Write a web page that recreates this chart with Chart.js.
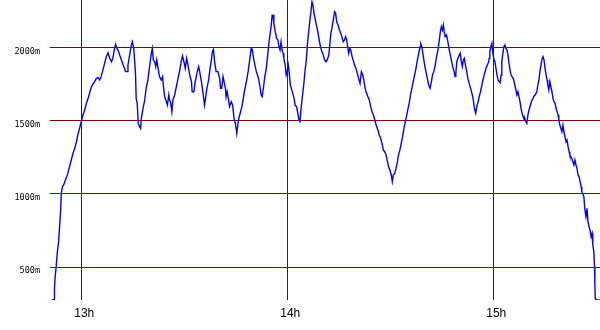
<!DOCTYPE html>
<html>
<head>
<meta charset="utf-8">
<script src="https://cdn.jsdelivr.net/npm/chart.js@4/dist/chart.umd.min.js"></script>
<style>
  html, body { margin: 0; padding: 0; background: #fff; }
  canvas { display: block; }
</style>
</head>
<body>
<canvas id="altChart" width="600" height="330"></canvas>
<script>
// Time of day in minutes since midnight (13h = 780)
const minutes = [
  771.3, 772.1, 772.2, 772.4, 772.7, 773.0, 773.4, 773.7, 774.0, 774.2, 774.5, 774.9, 775.2, 775.6, 776.1, 776.6,
  777.1, 777.6, 778.1, 778.6, 779.0, 779.5, 780.0, 780.5, 781.0, 781.5, 782.0, 782.4, 782.9, 783.4, 783.9, 784.4,
  784.9, 785.4, 785.8, 786.3, 786.8, 787.3, 787.8, 788.3, 788.8, 789.2, 789.7, 790.0, 790.4, 790.9, 791.2, 791.7,
  792.2, 792.6, 792.9, 793.4, 793.6, 794.1, 794.6, 794.9, 795.3, 795.6, 795.8, 796.0, 796.3, 796.6, 797.0, 797.3,
  797.5, 798.0, 798.5, 798.9, 799.4, 799.9, 800.4, 800.7, 801.0, 801.4, 801.7, 802.0, 802.3,
  802.8, 803.3, 803.7, 804.0, 804.3, 804.8, 805.1, 805.5, 805.7, 806.0, 806.4, 806.7, 807.2, 807.7, 808.2, 808.7,
  809.1, 809.5, 809.9, 810.3, 810.7, 811.1, 811.6, 812.1, 812.3, 812.8, 813.2, 813.8, 814.2, 814.5, 815.0, 815.5,
  815.9, 816.2, 816.6, 817.1, 817.4, 817.9, 818.2, 818.5, 818.9, 819.3, 819.8, 820.3, 820.6, 820.9, 821.3, 821.6,
  822.0, 822.2, 822.5, 822.9, 823.2, 823.7, 824.1, 824.5, 824.9, 825.3, 825.6, 825.9, 826.3, 826.8, 827.2, 827.6,
  828.1, 828.6, 829.0, 829.5, 829.8, 830.2, 830.6, 831.0, 831.5, 832.0, 832.4, 832.7, 833.1, 833.4, 833.9, 834.4,
  834.7, 835.1, 835.4, 835.6, 835.9, 836.1, 836.5, 836.9, 837.3, 837.6, 837.9, 838.2, 838.5, 838.8, 839.0, 839.4,
  839.7, 840.0, 840.3, 840.6, 840.9, 841.2, 841.6, 842.0, 842.3, 842.7, 843.1, 843.4, 843.7, 844.0, 844.4, 844.8,
  845.2, 845.6, 845.9, 846.3, 846.6, 846.9, 847.2, 847.5, 847.8, 848.2, 848.6, 849.0, 849.3, 849.7, 850.1, 850.5,
  850.9, 851.3, 851.7, 852.1, 852.4, 852.7, 853.0, 853.4, 853.8, 854.1, 854.4, 854.8, 855.2, 855.6, 855.9, 856.3,
  856.7, 857.0, 857.3, 857.6, 857.9, 858.2, 858.5, 858.9, 859.2, 859.6, 860.0, 860.4, 860.8, 861.2, 861.6, 862.0,
  862.3, 862.7, 863.1, 863.5, 863.9, 864.3, 864.7, 865.1, 865.5, 865.9, 866.4,
  866.8, 867.2, 867.6, 868.0, 868.4, 868.8, 869.1, 869.5, 869.9, 870.3, 870.6, 870.9, 871.3, 871.7, 872.1, 872.4,
  872.8, 873.2, 873.6, 874.0, 874.4, 874.8, 875.2, 875.6, 875.9, 876.3, 876.7, 877.1, 877.5, 877.9, 878.3, 878.7,
  878.9, 879.2, 879.5, 879.8, 880.1, 880.4, 880.8, 881.2, 881.6, 882.0, 882.3, 882.7, 883.1, 883.5, 883.9, 884.3,
  884.6, 884.9, 885.2, 885.5, 885.7, 886.0, 886.4, 886.8, 887.1, 887.4, 887.8, 888.2, 888.6, 888.9, 889.1, 889.4,
  889.7, 890.1, 890.4, 890.7, 891.0, 891.3, 891.6, 891.9, 892.3, 892.6, 893.0, 893.4, 893.8, 894.2, 894.5, 894.9,
  895.3, 895.6, 895.9, 896.3, 896.7, 897.1, 897.5, 897.9, 898.3, 898.7,
  898.8, 899.0, 899.3, 899.6, 899.9, 900.2, 900.5, 900.8, 901.1, 901.4, 901.7, 902.0, 902.3, 902.5, 902.8, 903.1,
  903.4, 903.7, 904.0, 904.3, 904.6, 904.9, 905.2, 905.5, 905.7, 906.0, 906.3, 906.6, 906.9, 907.2, 907.5, 907.8,
  908.1, 908.4, 908.7, 909.0, 909.2, 909.5, 909.8, 910.1, 910.4, 910.7, 911.0, 911.3, 911.6, 911.9, 912.2, 912.4,
  912.7, 913.0, 913.3, 913.6, 913.9, 914.2, 914.5, 914.8, 915.1, 915.4, 915.7, 915.9, 916.2, 916.5, 916.8, 917.1,
  917.4, 917.7, 918.0, 918.3, 918.6, 918.9, 919.1, 919.4, 919.7, 920.0, 920.3, 920.6, 920.9, 921.2, 921.5, 921.8,
  922.1, 922.3, 922.6, 922.9, 923.2, 923.5, 923.8, 924.1, 924.4, 924.7, 925.0, 925.3, 925.6, 925.8, 926.1, 926.4,
  926.7, 927.0, 927.3, 927.6, 927.9, 928.2, 928.5, 928.8, 929.0, 929.3, 929.5, 929.6, 929.7, 930.1, 931.1
];

// Altitude in metres
const altitude = [
  276, 276, 356, 435, 504, 595, 674, 776, 890, 1004, 1049, 1061, 1083, 1106, 1140, 1186,
  1231, 1277, 1311, 1356, 1402, 1447, 1493, 1538, 1572, 1618, 1652, 1686, 1727, 1750, 1766, 1788,
  1793, 1777, 1800, 1845, 1891, 1936, 1963, 1925, 1902, 1925, 1993, 2020, 1993, 1970, 1947, 1913,
  1879, 1857, 1834, 1834, 1879, 1947, 2016, 2038, 1993, 1891, 1822, 1652, 1618, 1481, 1459, 1447,
  1515, 1584, 1641, 1720, 1777, 1868, 1959, 1993, 1913, 1902, 1868, 1913, 1868,
  1800, 1777, 1800, 1720, 1663, 1629, 1606, 1675, 1641, 1629, 1561, 1641, 1675, 1731, 1788, 1845,
  1902, 1941, 1902, 1857, 1925, 1879, 1811, 1766, 1697, 1697, 1766, 1834, 1868, 1834, 1766, 1686,
  1606, 1652, 1720, 1777, 1834, 1913, 1970, 1986, 1891, 1834, 1834, 1788, 1720, 1720, 1800, 1766,
  1720, 1663, 1697, 1641, 1595, 1629, 1606, 1515, 1481, 1413, 1470, 1515, 1550, 1595, 1652, 1709,
  1766, 1834, 1902, 1993, 1986, 1925, 1879, 1834, 1800, 1743, 1675, 1663, 1731, 1788, 1857, 1970,
  2038, 2107, 2163, 2220, 2220, 2163, 2107, 2061, 2050, 2004, 1982, 2038, 1982, 1959, 1925, 1879,
  1811, 1834, 1879, 1822, 1743, 1720, 1686, 1652, 1606, 1595, 1550, 1504, 1493, 1572, 1663, 1743,
  1845, 1925, 2027, 2118, 2186, 2243, 2311, 2288, 2232, 2186, 2141, 2095, 2050, 2004, 1970, 1947,
  1913, 1902, 1918, 1947, 2016, 2095, 2129, 2186, 2243, 2232, 2175, 2152, 2118, 2095, 2073, 2038,
  2050, 2073, 2054, 2004, 1959, 1993, 1982, 1936, 1913, 1879, 1857, 1822, 1788, 1754, 1834, 1811,
  1777, 1720, 1686, 1663, 1641, 1595, 1561, 1538, 1504, 1470, 1436,
  1402, 1379, 1345, 1299, 1288, 1265, 1231, 1186, 1163, 1129, 1083, 1129, 1140, 1174, 1220, 1265,
  1299, 1345, 1390, 1447, 1493, 1538, 1584, 1629, 1675, 1720, 1766, 1811, 1857, 1913, 1959, 2004,
  2023, 2004, 1959, 1913, 1868, 1834, 1788, 1743, 1720, 1766, 1811, 1834, 1879, 1936, 1982, 2050,
  2107, 2141, 2118, 2152, 2107, 2073, 2084, 2038, 1993, 1959, 1913, 1868, 1834, 1800, 1822, 1902,
  1925, 1947, 1959, 1902, 1868, 1913, 1925, 1879, 1834, 1788, 1754, 1720, 1686, 1641, 1584, 1550,
  1606, 1629, 1663, 1697, 1743, 1788, 1822, 1857, 1879, 1902,
  1925, 1970, 2004, 2027, 1959, 1918, 1902, 1857, 1811, 1777, 1766, 1759, 1811, 1902, 1959, 2004,
  2016, 1993, 1982, 1947, 1891, 1845, 1811, 1800, 1800, 1777, 1743, 1709, 1675, 1697, 1663, 1629,
  1584, 1550, 1527, 1509, 1515, 1493, 1481, 1538, 1572, 1595, 1618, 1641, 1652, 1668, 1675, 1675,
  1697, 1743, 1777, 1834, 1879, 1918, 1936, 1913, 1857, 1811, 1777, 1743, 1709, 1766, 1731, 1697,
  1652, 1629, 1618, 1584, 1561, 1538, 1504, 1470, 1447, 1424, 1470, 1424, 1390, 1356, 1368, 1322,
  1288, 1265, 1254, 1243, 1220, 1197, 1231, 1197, 1174, 1129, 1118, 1083, 1049, 1015, 999, 981,
  890, 845, 902, 811, 776, 754, 708, 731, 651, 606, 504, 390, 288, 276, 276
];

// Axis ticks
const xTickValues = [780, 840, 900];
const xTickLabels = ['13h', '14h', '15h'];
const yTickValues = [500, 1000, 1500, 2000];

const gridColor = '#800000';

const points = minutes.map((m, i) => ({ x: m, y: altitude[i] }));

const ctx = document.getElementById('altChart').getContext('2d');
const altChart = new Chart(ctx, {
    type: 'line',
    data: {
        datasets: [{
            data: points,
            borderColor: '#0000ff',
            borderWidth: 1.4,
            pointRadius: 0,
            tension: 0,
            fill: false
        }]
    },
    options: {
        responsive: false,
        animation: false,
        devicePixelRatio: 1,
        layout: { padding: 0 },
        plugins: {
            legend: { display: false },
            tooltip: { enabled: false }
        },
        scales: {
            x: {
                type: 'linear',
                min: 770.9,
                max: 931.1,
                afterBuildTicks: scale => { scale.ticks = xTickValues.map(v => ({ value: v })); },
                afterFit: scale => {
                    scale.height = 30;
                    scale.paddingLeft = 0;
                    scale.paddingRight = 0;
                },
                grid: { color: gridColor, lineWidth: 1, drawTicks: false },
                border: { display: false },
                ticks: {
                    padding: 6,
                    labelOffset: 3,
                    maxRotation: 0,
                    autoSkip: false,
                    color: '#000',
                    font: { family: 'Liberation Sans', size: 12 },
                    callback: v => xTickLabels[xTickValues.indexOf(v)]
                }
            },
            y: {
                min: 276,
                max: 2323,
                afterBuildTicks: scale => { scale.ticks = yTickValues.map(v => ({ value: v })); },
                afterFit: scale => {
                    scale.width = 50;
                    scale.paddingTop = 0;
                    scale.paddingBottom = 0;
                },
                grid: { color: gridColor, lineWidth: 1, drawTicks: false },
                border: { display: false },
                ticks: {
                    padding: 10,
                    labelOffset: 4,
                    autoSkip: false,
                    color: '#000',
                    font: { family: 'DejaVu Sans Mono', size: 8.5 },
                    callback: v => v + 'm'
                }
            }
        }
    }
});
</script>
</body>
</html>
